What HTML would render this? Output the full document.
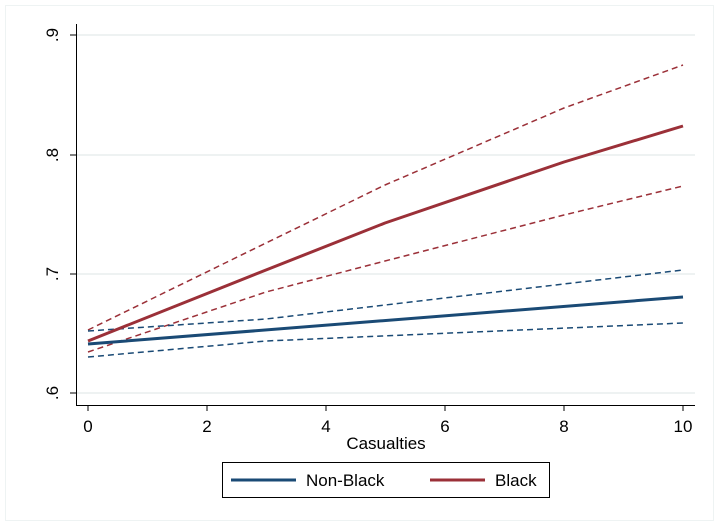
<!DOCTYPE html>
<html><head><style>body{margin:0;background:#fff}svg{display:block}</style></head><body>
<svg width="719" height="527" xmlns="http://www.w3.org/2000/svg" font-family="Liberation Sans, sans-serif">
<rect x="0" y="0" width="719" height="527" fill="#fff"/>
<rect x="5.5" y="5.5" width="708" height="515" fill="none" stroke="#eef3f3"/>
<g stroke="#e8eeee" stroke-width="1.5">
<line x1="77" y1="35" x2="695" y2="35"/><line x1="77" y1="155" x2="695" y2="155"/>
<line x1="77" y1="274" x2="695" y2="274"/><line x1="77" y1="393" x2="695" y2="393"/>
</g>
<g stroke="#000" stroke-width="1">
<line x1="76.5" y1="24" x2="76.5" y2="405"/><line x1="76" y1="405.5" x2="695" y2="405.5"/>
<line x1="70" y1="35" x2="76" y2="35"/><line x1="70" y1="155" x2="76" y2="155"/>
<line x1="70" y1="274" x2="76" y2="274"/><line x1="70" y1="393" x2="76" y2="393"/>
<line x1="88" y1="405" x2="88" y2="411"/><line x1="207" y1="405" x2="207" y2="411"/>
<line x1="326" y1="405" x2="326" y2="411"/><line x1="445" y1="405" x2="445" y2="411"/>
<line x1="564" y1="405" x2="564" y2="411"/><line x1="683" y1="405" x2="683" y2="411"/>
</g>
<g font-size="17" fill="#000" text-anchor="middle">
<text transform="translate(58,35) rotate(-90)">.9</text>
<text transform="translate(58,155) rotate(-90)">.8</text>
<text transform="translate(58,274) rotate(-90)">.7</text>
<text transform="translate(58,393) rotate(-90)">.6</text>
<text x="88" y="432">0</text><text x="207" y="432">2</text><text x="326" y="432">4</text>
<text x="445" y="432">6</text><text x="564" y="432">8</text><text x="683" y="432">10</text>
<text x="386" y="449">Casualties</text>
</g>
<g fill="none" stroke-linejoin="round">
<polyline stroke="#9b3038" stroke-width="1.5" stroke-dasharray="6,4" points="88,330 266,243 385,185 564,108 683,65"/>
<polyline stroke="#9b3038" stroke-width="1.5" stroke-dasharray="6,4" points="88,352 266,292 385,261 564,215 683,186"/>
<polyline stroke="#1a4a75" stroke-width="1.5" stroke-dasharray="6,4" points="88,331 266,319 683,270"/>
<polyline stroke="#1a4a75" stroke-width="1.5" stroke-dasharray="6,4" points="88,357 266,341 683,323"/>
<polyline stroke="#1a4a75" stroke-width="3" points="88,344 683,297"/>
<polyline stroke="#9b3038" stroke-width="3" points="88,341 266,270 385,223 564,162 683,126"/>
</g>
<rect x="222.5" y="462.5" width="327" height="35" fill="#fff" stroke="#000"/>
<line x1="231" y1="480" x2="296" y2="480" stroke="#1a4a75" stroke-width="3"/>
<line x1="430" y1="480" x2="485" y2="480" stroke="#9b3038" stroke-width="3"/>
<g font-size="17" fill="#000"><text x="306" y="486">Non-Black</text><text x="495" y="486">Black</text></g>
</svg>
</body></html>
